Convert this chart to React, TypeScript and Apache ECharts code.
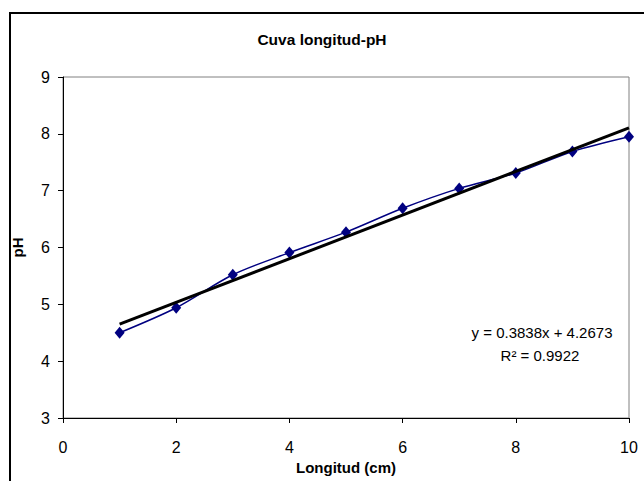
import React, { useEffect, useRef } from "react";
import * as echarts from "echarts";

const longitud = [1, 2, 3, 4, 5, 6, 7, 8, 9, 10];
const phValues = [4.5, 4.94, 5.52, 5.91, 6.27, 6.69, 7.04, 7.31, 7.69, 7.95];
const trendSlope = 0.3838;
const trendIntercept = 4.2673;
const trendX = [1, 10];
const titleText = "Cuva longitud-pH";
const eqText = "y = 0.3838x + 4.2673";
const r2Text = "R² = 0.9922";

export default function App() {
  const ref = useRef<HTMLDivElement>(null);
  useEffect(() => {
    if (!ref.current) return;
    const chart = echarts.init(ref.current, null, { renderer: "svg" });
    const font = "'Liberation Sans', Arial, sans-serif";
    const pts = longitud.map((x, i) => [x, phValues[i]]);
    const trend = trendX.map((x) => [x, trendSlope * x + trendIntercept]);
    chart.setOption({
      animation: false,
      backgroundColor: "#ffffff",
      title: {
        text: titleText,
        left: "center",
        top: 26,
        textStyle: { fontFamily: font, fontSize: 15.5, fontWeight: "bold", color: "#000" },
      },
      grid: {
        left: 63,
        right: 15,
        top: 77,
        bottom: 63,
        containLabel: false,
        outerBoundsMode: "none",
        show: true,
        borderColor: "#808080",
        borderWidth: 1,
        backgroundColor: "transparent",
      },
      xAxis: {
        type: "value",
        min: 0,
        max: 10,
        interval: 2,
        name: "Longitud (cm)",
        nameLocation: "middle",
        nameGap: 41,
        nameTextStyle: { fontFamily: font, fontSize: 15, fontWeight: "bold", color: "#000" },
        axisLine: { show: true, lineStyle: { color: "#000", width: 1 } },
        axisTick: { show: true, inside: false, length: 5, lineStyle: { color: "#000" } },
        axisLabel: { fontFamily: font, fontSize: 16, color: "#000", margin: 21 },
        splitLine: { show: false },
      },
      yAxis: {
        type: "value",
        min: 3,
        max: 9,
        interval: 1,
        name: "pH",
        nameLocation: "middle",
        nameGap: 38,
        nameRotate: 90,
        nameTextStyle: { fontFamily: font, fontSize: 15, fontWeight: "bold", color: "#000" },
        axisLine: { show: true, lineStyle: { color: "#000", width: 1 } },
        axisTick: { show: true, inside: false, length: 5, lineStyle: { color: "#000" } },
        axisLabel: { fontFamily: font, fontSize: 16, color: "#000", margin: 13 },
        splitLine: { show: false },
      },
      series: [
        {
          type: "line",
          data: pts,
          smooth: 0.3,
          symbol: "diamond",
          symbolSize: [10, 12],
          showSymbol: true,
          lineStyle: { color: "#000080", width: 1.5 },
          itemStyle: { color: "#000080" },
          z: 2,
        },
        {
          type: "line",
          data: trend,
          symbol: "none",
          lineStyle: { color: "#000", width: 3 },
          z: 3,
        },
      ],
      graphic: [
        {
          type: "rect",
          shape: { x: 10, y: 13, width: 700, height: 600 },
          style: { fill: "none", stroke: "#000", lineWidth: 2 },
          silent: true,
        },
        {
          type: "text",
          x: 542,
          y: 332,
          style: {
            text: eqText,
            fontFamily: font,
            fontSize: 15,
            fill: "#000",
            align: "center",
            verticalAlign: "middle",
          },
        },
        {
          type: "text",
          x: 540,
          y: 355,
          style: {
            text: r2Text,
            fontFamily: font,
            fontSize: 15,
            fill: "#000",
            align: "center",
            verticalAlign: "middle",
          },
        },
      ],
    });
    return () => chart.dispose();
  }, []);
  return (
    <div
      ref={ref}
      style={{ position: "fixed", left: 0, top: 0, width: 644, height: 481, background: "#fff" }}
    />
  );
}
